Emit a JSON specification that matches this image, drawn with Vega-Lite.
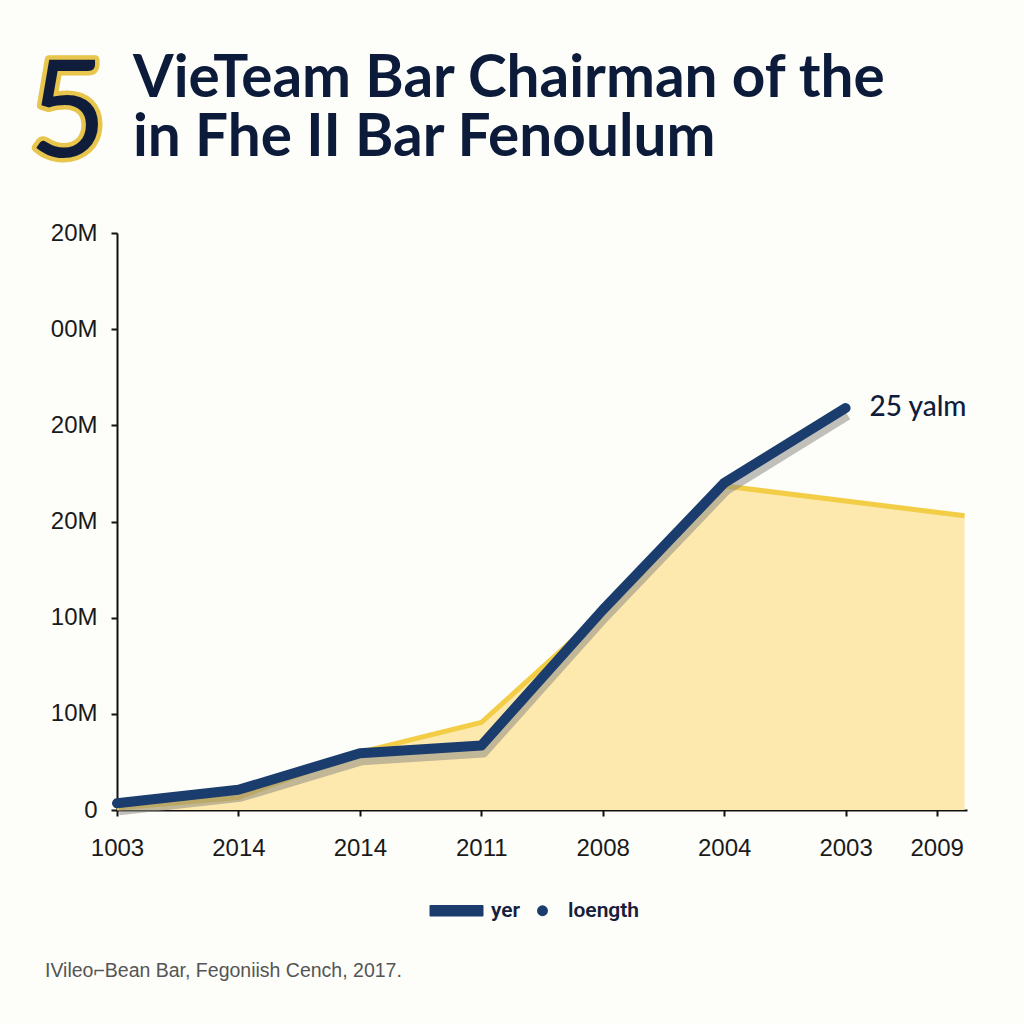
{
  "$schema": "https://vega.github.io/schema/vega-lite/v6.json",
  "width": 850,
  "height": 577,
  "autosize": {"type": "none"},
  "padding": {"left": 117, "top": 233, "right": 57, "bottom": 214},
  "background": "#fdfdfa",
  "config": {"view": {"stroke": null}},
  "title": {
    "text": ["VieTeam Bar Chairman of the", "in Fhe II Bar Fenoulum"],
    "anchor": "start",
    "frame": "group",
    "dx": 16,
    "offset": -119,
    "fontSize": 58.5,
    "font": "Lato",
    "fontWeight": "bold",
    "color": "#0d1b3a",
    "lineHeight": 59
  },
  "datasets": {
    "navy": [
      {"i": 0, "v": 0.07, "s": "yer"},
      {"i": 1, "v": 0.21, "s": "yer"},
      {"i": 2, "v": 0.59, "s": "yer"},
      {"i": 3, "v": 0.67, "s": "yer"},
      {"i": 4, "v": 2.08, "s": "yer"},
      {"i": 5, "v": 3.4, "s": "yer"},
      {"i": 6, "v": 4.18, "s": "yer"}
    ],
    "yellow": [
      {"i": 0, "v": 0.02},
      {"i": 1, "v": 0.13},
      {"i": 2, "v": 0.6},
      {"i": 3, "v": 0.91},
      {"i": 4, "v": 2.05},
      {"i": 5, "v": 3.37},
      {"i": 6.98, "v": 3.06}
    ],
    "endlabel": [{"i": 6, "v": 4.18, "t": "25 yalm"}],
    "badge": [{"t": "5"}],
    "footer": [{"t": "IVileo⌐Bean Bar, Fegoniish Cench, 2017."}]
  },
  "layer": [
    {
      "data": {"name": "yellow"},
      "mark": {"type": "area", "color": "#fde9ad", "opacity": 1, "line": {"color": "#f2cd45", "strokeWidth": 5}},
      "encoding": {
        "x": {
          "field": "i", "type": "quantitative", "title": null,
          "scale": {"domain": [0, 7], "nice": false, "zero": false},
          "axis": {
            "title": null, "grid": false,
            "values": [0, 1, 2, 3, 4, 5, 6, 6.75],
            "labelExpr": "datum.value == 6.75 ? '2009' : ['1003','2014','2014','2011','2008','2004','2003'][datum.value]",
            "domainColor": "#111111", "domainWidth": 2,
            "tickColor": "#111111", "tickWidth": 2, "tickSize": 6,
            "labelFont": "Liberation Sans", "labelFontSize": 24, "labelColor": "#1a1a1a",
            "labelPadding": 20, "labelFlush": false, "labelOverlap": false
          }
        },
        "y": {
          "field": "v", "type": "quantitative", "title": null,
          "scale": {"domain": [0, 6], "nice": false, "zero": true},
          "axis": {
            "title": null, "grid": false,
            "values": [0, 1, 2, 3, 4, 5, 6],
            "labelExpr": "['0','10M','10M','20M','20M','00M','20M'][datum.value]",
            "domainColor": "#111111", "domainWidth": 2,
            "tickColor": "#111111", "tickWidth": 2, "tickSize": 6,
            "labelFont": "Liberation Sans", "labelFontSize": 24, "labelColor": "#1a1a1a",
            "labelPadding": 14, "labelFlush": false, "labelOverlap": false
          }
        }
      }
    },
    {
      "data": {"name": "navy"},
      "mark": {"type": "line", "color": "#8f8c84", "opacity": 0.55, "strokeWidth": 10, "yOffset": 7, "xOffset": 2, "strokeJoin": "round"},
      "encoding": {
        "x": {"field": "i", "type": "quantitative", "title": null},
        "y": {"field": "v", "type": "quantitative", "title": null}
      }
    },
    {
      "data": {"name": "navy"},
      "mark": {"type": "line", "strokeWidth": 10, "strokeCap": "round", "strokeJoin": "round"},
      "encoding": {
        "x": {"field": "i", "type": "quantitative", "title": null},
        "y": {"field": "v", "type": "quantitative", "title": null},
        "color": {
          "field": "s", "type": "nominal",
          "scale": {"domain": ["yer", "loength"], "range": ["#1a3d6d", "#1a3d6d"]},
          "legend": {
            "title": null, "orient": "none", "direction": "horizontal",
            "legendX": 329, "legendY": 667,
            "symbolSize": 2704,
            "labelFont": "Roboto", "labelFontSize": 21, "labelFontWeight": 600, "labelColor": "#17203a",
            "labelOffset": 24, "columnPadding": 11,
            "encode": {
              "symbols": {
                "update": {
                  "shape": {"signal": "datum.value === 'yer' ? 'M-1,-0.18H1V0.18H-1Z' : 'circle'"},
                  "size": {"signal": "datum.value === 'yer' ? 2704 : 80"},
                  "fill": {"value": "#1a3d6d"},
                  "stroke": {"value": "#1a3d6d"},
                  "strokeWidth": {"value": 2},
                  "strokeJoin": {"value": "round"}
                }
              },
              "labels": {
                "update": {
                  "dx": {"signal": "datum.value === 'loength' ? -9 : 0"}
                }
              }
            }
          }
        }
      }
    },
    {
      "data": {"name": "endlabel"},
      "mark": {"type": "text", "align": "left", "baseline": "middle", "dx": 24, "fontSize": 28, "font": "Lato", "fontWeight": 500, "color": "#0f1d3a"},
      "encoding": {
        "x": {"field": "i", "type": "quantitative", "title": null},
        "y": {"field": "v", "type": "quantitative", "title": null},
        "text": {"field": "t"}
      }
    },
    {
      "data": {"name": "badge"},
      "mark": {"type": "text", "align": "center", "baseline": "alphabetic", "fontSize": 135, "font": "Lato", "fill": "#e8c54c", "stroke": "#e8c54c", "strokeWidth": 9, "strokeJoin": "round"},
      "encoding": {
        "x": {"datum": -0.404, "type": "quantitative", "title": null},
        "y": {"datum": 6.79, "type": "quantitative", "title": null},
        "text": {"field": "t"}
      }
    },
    {
      "data": {"name": "badge"},
      "mark": {"type": "text", "align": "center", "baseline": "alphabetic", "fontSize": 135, "font": "Lato", "fill": "#0f1d3a"},
      "encoding": {
        "x": {"datum": -0.404, "type": "quantitative", "title": null},
        "y": {"datum": 6.79, "type": "quantitative", "title": null},
        "text": {"field": "t"}
      }
    },
    {
      "data": {"name": "footer"},
      "mark": {"type": "text", "align": "left", "baseline": "alphabetic", "fontSize": 19.5, "font": "Liberation Sans", "fill": "#555555"},
      "encoding": {
        "x": {"datum": -0.593, "type": "quantitative", "title": null},
        "y": {"datum": -1.736, "type": "quantitative", "title": null},
        "text": {"field": "t"}
      }
    }
  ]
}
